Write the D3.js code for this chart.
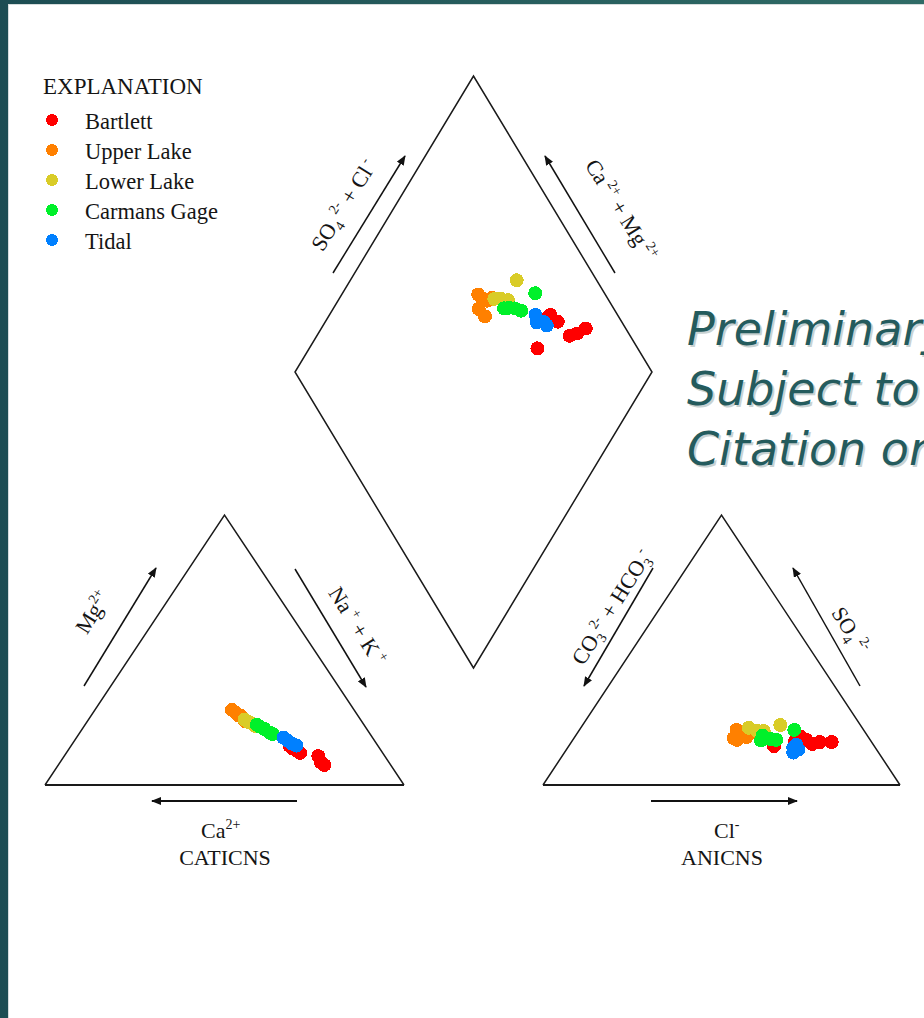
<!DOCTYPE html>
<html>
<head>
<meta charset="utf-8">
<script src="https://cdn.jsdelivr.net/npm/d3@7"></script>
<style>
html, body { margin: 0; padding: 0; background: #255b5d; }
svg { display: block; }
text { font-family: "Liberation Serif", "Times New Roman", serif; fill: #151515; }
</style>
</head>
<body>
<div id="chart"></div>
<script>
// sites shown in the legend, in drawing order
const sites = ["Bartlett", "Upper Lake", "Lower Lake", "Carmans Gage", "Tidal"];
const siteColors = ["#ff0000", "#ff8000", "#d9cc28", "#00f02a", "#0080ff"];

// one entry per water sample (percent of meq)
const sampleSite = [0, 0, 0, 0, 0, 0, 0, 1, 1, 1, 1, 1, 1, 2, 2, 2, 2, 3, 3, 3, 3, 3, 4, 4, 4, 4];
const ca   = [19.0, 18.5, 18.5, 24.4, 23.0, 23.5, 24.6, 34.0, 33.5, 32.6, 33.3, 32.5, 32.5, 32.3, 31.6, 30.6, 30.8, 29.4, 28.5, 27.7, 29.9, 27.1, 24.8, 23.5, 22.7, 24.2];
const mg   = [ 8.5, 10.7,  7.4, 13.7, 11.9, 12.6, 14.4, 27.8, 26.7, 25.6, 25.9, 24.8, 23.7, 24.2, 23.3, 21.9, 22.6, 21.6, 20.7, 19.3, 22.3, 18.9, 17.5, 15.3, 14.6, 16.4];
const naK  = [72.5, 70.8, 74.1, 61.9, 65.1, 63.9, 61.0, 38.2, 39.8, 41.8, 40.8, 42.7, 43.8, 43.5, 45.1, 47.5, 46.6, 49.0, 50.8, 53.0, 47.8, 54.0, 57.7, 61.2, 62.7, 59.4];
const hco3 = [14.5, 17.0, 11.2, 18.8, 17.9, 28.1, 21.2, 35.6, 35.2, 34.1, 37.9, 32.2, 37.4, 31.8, 30.1, 28.2, 22.4, 29.3, 27.7, 26.3, 30.7, 19.4, 23.0, 21.9, 21.6, 23.9];
const so4  = [15.9, 15.2, 15.9, 17.8, 16.7, 14.4, 16.3, 20.4, 18.9, 17.8, 17.4, 19.3, 16.7, 21.2, 20.1, 20.0, 22.2, 18.3, 17.0, 16.7, 16.5, 20.4, 13.8, 13.1, 14.9, 12.0];
const cl   = [69.6, 67.8, 72.9, 63.4, 65.4, 57.5, 62.5, 44.0, 45.9, 48.1, 44.7, 48.5, 45.9, 47.0, 49.8, 51.8, 55.4, 52.4, 55.3, 57.0, 52.8, 60.2, 63.2, 65.0, 63.5, 64.1];

const watermark = ["Preliminary", "Subject to", "Citation or"];

const W = 924, H = 1018;
const svg = d3.select("#chart").append("svg").attr("width", W).attr("height", H);

// slide frame
const defs = svg.append("defs");
const grad = defs.append("linearGradient").attr("id", "frame");
grad.append("stop").attr("offset", "0%").attr("stop-color", "#1d4d53");
grad.append("stop").attr("offset", "100%").attr("stop-color", "#2f6b66");
svg.append("rect").attr("width", W).attr("height", H).attr("fill", "url(#frame)");
svg.append("rect").attr("x", 8).attr("y", 4).attr("width", W - 8).attr("height", H - 4).attr("fill", "#d6dcdc");
svg.append("rect").attr("x", 9).attr("y", 5).attr("width", W - 9).attr("height", H - 5).attr("fill", "#ffffff");

defs.append("marker").attr("id", "arr")
  .attr("viewBox", "0 0 10 8").attr("refX", 9).attr("refY", 4)
  .attr("markerWidth", 10).attr("markerHeight", 8).attr("markerUnits", "userSpaceOnUse")
  .attr("orient", "auto")
  .append("path").attr("d", "M0,0 L10,4 L0,8 Z").attr("fill", "#111");

// scales for the three plotting fields
const catX = d3.scaleLinear().domain([0, 100]).range([45, 404]);
const catY = d3.scaleLinear().domain([0, 100]).range([785, 515]);
const anX = d3.scaleLinear().domain([0, 100]).range([543, 900]);
const anY = d3.scaleLinear().domain([0, 100]).range([785, 515]);
const dmX = d3.scaleLinear().domain([-100, 100]).range([295, 652]);
const dmY = d3.scaleLinear().domain([0, 200]).range([668, 76]);

const catPt = (m, n) => [catX(n + m / 2), catY(m)];
const anPt = (s, c) => [anX(c + s / 2), anY(s)];
const dmPt = (cm, sc) => [dmX(sc - cm), dmY(cm + sc)];

const line = d3.line();
const outline = svg.append("g").attr("fill", "none").attr("stroke", "#1a1a1a")
  .attr("stroke-width", 1.5);

outline.append("path").attr("d", line([catPt(0, 0), catPt(100, 0), catPt(0, 100)]));
outline.append("path").attr("d", line([anPt(0, 0), anPt(100, 0), anPt(0, 100)]));
outline.append("path").attr("d", line([dmPt(0, 0), dmPt(100, 0), dmPt(100, 100), dmPt(0, 100)]) + "Z");
outline.append("path").attr("stroke-width", 2).attr("d", line([catPt(0, 0), catPt(0, 100)]));
outline.append("path").attr("stroke-width", 2).attr("d", line([anPt(0, 0), anPt(0, 100)]));

// direction arrows
const arrows = [
  [[84, 686], [156, 568]],
  [[295, 569], [366, 687]],
  [[297, 801], [152, 801]],
  [[653, 568], [584, 686]],
  [[860, 686], [793, 568]],
  [[651, 801], [797, 801]],
  [[333, 273], [405, 156]],
  [[615, 273], [545, 156]]
];
svg.append("g").selectAll("path").data(arrows).join("path")
  .attr("d", d => line(d))
  .attr("stroke", "#111")
  .attr("stroke-width", d => d[0][1] === d[1][1] ? 2 : 1.5)
  .attr("fill", "none")
  .attr("marker-end", "url(#arr)");

// labels with sub/superscripts
function richText(x, y, angle, parts, anchor) {
  const t = svg.append("text")
    .attr("transform", `translate(${x},${y}) rotate(${angle})`)
    .attr("text-anchor", anchor || "middle")
    .attr("font-size", 22);
  let cur = 0;
  parts.forEach(p => {
    const off = p[1] === "sup" ? -9 : p[1] === "sub" ? 5 : 0;
    t.append("tspan").attr("dy", off - cur).attr("font-size", p[1] ? 14 : 22).text(p[0]);
    cur = off;
  });
  return t;
}

richText(99, 616, -58, [["Mg"], ["2+", "sup"]]);
richText(351, 630, 58, [["Na"], [" +", "sup"], [" + K"], [" +", "sup"]]);
richText(201, 838, 0, [["Ca"], ["2+", "sup"]], "start");
richText(225, 865, 0, [["CATICNS"]]);

richText(618, 611, -58, [["CO"], ["3", "sub"], ["2-", "sup"], [" + HCO"], ["3", "sub"], ["-", "sup"]]);
richText(844, 634, 58, [["SO"], ["4", "sub"], [" 2-", "sup"]]);
richText(714, 838, 0, [["Cl"], ["-", "sup"]], "start");
richText(722, 865, 0, [["ANICNS"]]);

richText(350, 209, -58, [["SO"], ["4", "sub"], [" 2-", "sup"], [" + Cl"], [" -", "sup"]]);
richText(615, 214, 58, [["Ca"], [" 2+", "sup"], [" + Mg"], [" 2+", "sup"]]);

// sample points in each field
const samples = d3.range(sampleSite.length).map(i => ({
  site: sampleSite[i], ca: ca[i], mg: mg[i], naK: naK[i], hco3: hco3[i], so4: so4[i], cl: cl[i]
}));
const dots = svg.append("g").attr("shape-rendering", "crispEdges");
const fields = [
  d => catPt(d.mg, d.naK),
  d => anPt(d.so4, d.cl),
  d => dmPt(d.ca + d.mg, d.so4 + d.cl)
];
fields.forEach(f => {
  dots.append("g").selectAll("circle").data(samples).join("circle")
    .attr("cx", d => f(d)[0])
    .attr("cy", d => f(d)[1])
    .attr("r", 7)
    .attr("fill", d => siteColors[d.site]);
});

// legend
svg.append("text").attr("x", 43).attr("y", 94).attr("font-size", 23).text("EXPLANATION");
const leg = svg.append("g").selectAll("g").data(sites).join("g")
  .attr("transform", (d, i) => `translate(0,${120 + i * 30})`);
leg.append("circle").attr("cx", 52).attr("cy", 0).attr("r", 6)
  .attr("fill", (d, i) => siteColors[i]).attr("shape-rendering", "crispEdges");
leg.append("text").attr("x", 85).attr("y", 8.5).attr("font-size", 22.5).text(d => d);

// watermark
const wm = svg.append("g").style("font-family", "'DejaVu Sans', sans-serif")
  .style("font-style", "oblique").style("font-size", "46px");
wm.selectAll("text.sh").data(watermark).join("text").attr("class", "sh")
  .attr("x", 689).attr("y", (d, i) => 347 + i * 60)
  .style("fill", "#c9d2d2").style("font-family", "inherit").text(d => d);
wm.selectAll("text.fg").data(watermark).join("text").attr("class", "fg")
  .attr("x", 687).attr("y", (d, i) => 345 + i * 60)
  .style("fill", "#245b5d").style("font-family", "inherit").text(d => d);
</script>
</body>
</html>
